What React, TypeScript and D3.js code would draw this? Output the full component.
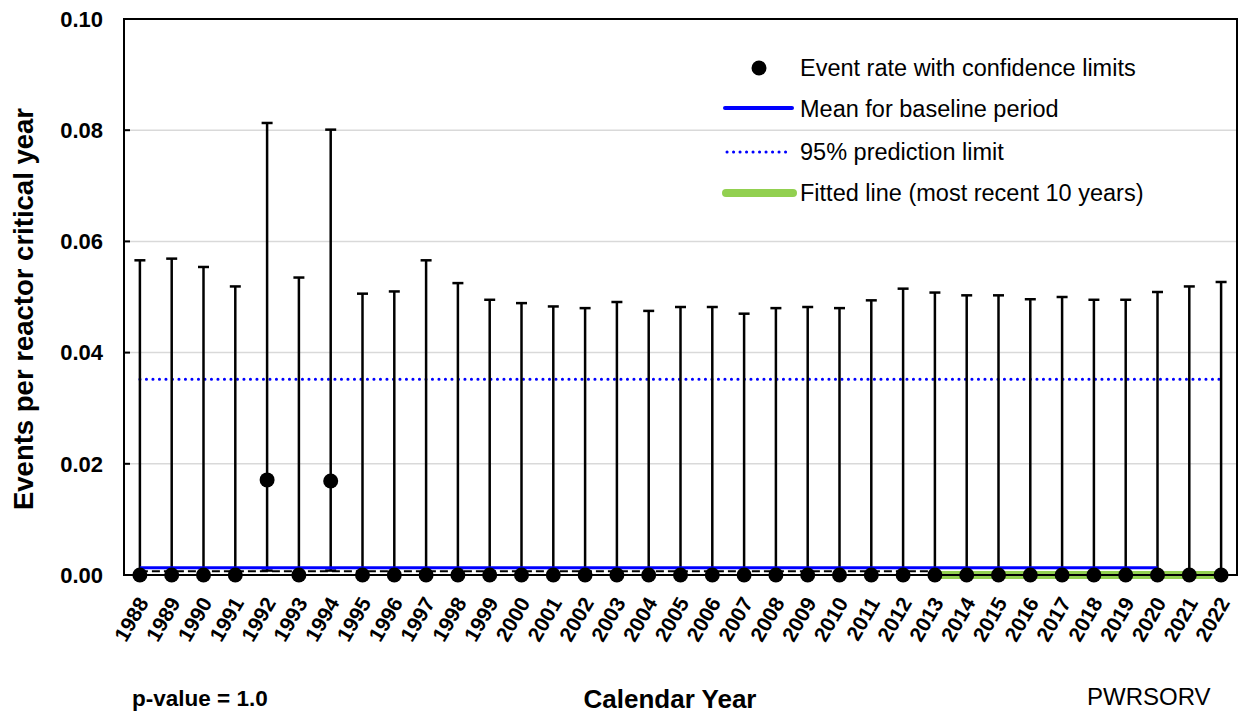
import React from "react";
import * as d3 from "d3";

const years = d3.range(1988, 2023).map(String);
const rates = [0, 0, 0, 0, 0.0171, 0, 0.0169, 0, 0, 0, 0, 0, 0, 0, 0, 0, 0, 0, 0, 0, 0, 0, 0, 0, 0, 0, 0, 0, 0, 0, 0, 0, 0, 0, 0];
const upper = [0.0566, 0.0569, 0.0554, 0.0519, 0.0813, 0.0535, 0.0801, 0.0506, 0.051, 0.0566, 0.0525, 0.0495, 0.0489, 0.0483, 0.048, 0.0491, 0.0475, 0.0482, 0.0482, 0.047, 0.048, 0.0482, 0.048, 0.0494, 0.0515, 0.0508, 0.0503, 0.0503, 0.0496, 0.05, 0.0495, 0.0495, 0.0509, 0.0519, 0.0527];
const lower = [0, 0, 0, 0, 0.0008, 0, 0.0008, 0, 0, 0, 0, 0, 0, 0, 0, 0, 0, 0, 0, 0, 0, 0, 0, 0, 0, 0, 0, 0, 0, 0, 0, 0, 0, 0, 0];
const baselineMean = 0.0013;
const baselineYears = ["1988", "2020"];
const predictionLimit = 0.0352;
const predictionYears = ["1988", "2022"];
const lowerLimit = 0.0005;
const lowerLimitYears = ["1988", "2013"];
const fittedYears = ["2013", "2022"];
const fittedValues = [0, 0];
const yTicks = [0, 0.02, 0.04, 0.06, 0.08, 0.1];

const legendItems = [
  "Event rate with confidence limits",
  "Mean for baseline period",
  "95% prediction limit",
  "Fitted line (most recent 10 years)",
];

export default function App() {
  const W = 1241, H = 715;
  const left = 124, right = 1237, top = 19, bottom = 575;
  const x = d3.scaleBand().domain(years).range([left, right]).padding(0);
  const cx = (yr: string) => (x(yr) as number) + x.bandwidth() / 2;
  const y = d3.scaleLinear().domain([0, 0.1]).range([bottom, top]);
  const font = "Arial, 'Liberation Sans', sans-serif";
  const cap = 5.5;

  return (
    <svg width={W} height={H} style={{ position: "absolute", left: 0, top: 0, background: "#fff" }} fontFamily={font}>
      {/* gridlines */}
      {yTicks.filter((t) => t > 0 && t < 0.1).map((t) => (
        <line key={t} x1={left} x2={right} y1={y(t)} y2={y(t)} stroke="#d9d9d9" strokeWidth={1.5} />
      ))}
      {/* prediction limit */}
      <line x1={cx(predictionYears[0])} x2={cx(predictionYears[1])} y1={y(predictionLimit)} y2={y(predictionLimit)}
        stroke="#0000ff" strokeWidth={3} strokeDasharray="0.1 6.4" strokeLinecap="round" />
      {/* error bars */}
      {years.map((yr, i) => (
        <g key={yr} stroke="#000" strokeWidth={2.5}>
          <line x1={cx(yr)} x2={cx(yr)} y1={y(lower[i])} y2={y(upper[i])} />
          <line x1={cx(yr) - cap} x2={cx(yr) + cap} y1={y(upper[i])} y2={y(upper[i])} strokeWidth={2.5} />
          {lower[i] > 0 && (
            <line x1={cx(yr) - cap} x2={cx(yr) + cap} y1={y(lower[i])} y2={y(lower[i])} strokeWidth={2.5} />
          )}
        </g>
      ))}
      {/* lower dashed limit */}
      <line x1={cx(lowerLimitYears[0])} x2={cx(lowerLimitYears[1])} y1={y(lowerLimit) - 1} y2={y(lowerLimit) - 1}
        stroke="#000" strokeWidth={2} strokeDasharray="8 4" />
      {/* baseline mean */}
      <line x1={cx(baselineYears[0])} x2={cx(baselineYears[1])} y1={y(baselineMean)} y2={y(baselineMean)}
        stroke="#0000ff" strokeWidth={3} />
      {/* fitted line */}
      <line x1={cx(fittedYears[0])} x2={cx(fittedYears[1])} y1={y(fittedValues[0])} y2={y(fittedValues[1])}
        stroke="#92d050" strokeWidth={8} />
      {/* frame */}
      <rect x={left} y={top} width={right - left} height={bottom - top} fill="none" stroke="#000" strokeWidth={2} />
      {/* y ticks */}
      {yTicks.map((t) => (
        <g key={t}>
          <line x1={left} x2={left + 6} y1={y(t)} y2={y(t)} stroke="#000" strokeWidth={2} />
          <text x={103} y={y(t)} dy="0.35em" textAnchor="end" fontSize={22} fontWeight="bold">{t.toFixed(2)}</text>
        </g>
      ))}
      {/* points */}
      {years.map((yr, i) => (
        <circle key={yr} cx={cx(yr)} cy={y(rates[i])} r={7.5} fill="#000" />
      ))}
      {/* x tick labels */}
      {years.map((yr) => (
        <text key={yr} transform={`translate(${cx(yr) + 3},${bottom + 24}) rotate(-60)`} textAnchor="end"
          dy="0.35em" fontSize={21} fontWeight="bold">{yr}</text>
      ))}
      {/* axis titles */}
      <text transform={`translate(33,309) rotate(-90)`} textAnchor="middle" fontSize={27.5} fontWeight="bold">
        Events per reactor critical year
      </text>
      <text x={670} y={708} textAnchor="middle" fontSize={26} fontWeight="bold">Calendar Year</text>
      <text x={132} y={706} fontSize={22.5} fontWeight="bold">p-value = 1.0</text>
      <text x={1087} y={705} fontSize={24}>PWRSORV</text>
      {/* legend */}
      <g fontSize={23.5}>
        <circle cx={759} cy={68} r={7.5} fill="#000" />
        <text x={800} y={68} dy="0.35em">{legendItems[0]}</text>
        <line x1={725} x2={792} y1={108} y2={108} stroke="#0000ff" strokeWidth={4} strokeLinecap="round" />
        <text x={800} y={109} dy="0.35em">{legendItems[1]}</text>
        <line x1={727} x2={790} y1={152} y2={152} stroke="#0000ff" strokeWidth={3} strokeDasharray="0.1 6.4" strokeLinecap="round" />
        <text x={800} y={152} dy="0.35em">{legendItems[2]}</text>
        <line x1={726} x2={793} y1={193} y2={193} stroke="#92d050" strokeWidth={8} strokeLinecap="round" />
        <text x={800} y={193} dy="0.35em">{legendItems[3]}</text>
      </g>
    </svg>
  );
}
